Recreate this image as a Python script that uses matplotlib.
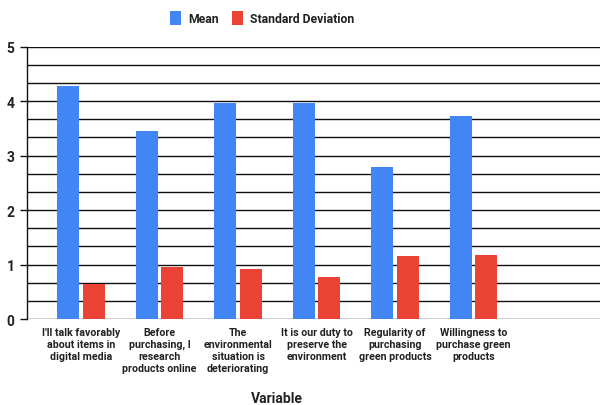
import matplotlib
matplotlib.use("Agg")
import matplotlib.pyplot as plt
import numpy as np
from matplotlib.ticker import MultipleLocator
from matplotlib.patches import Patch

categories = ["I'll talk favorably\nabout items in\ndigital media",
              "Before\npurchasing, I\nresearch\nproducts online",
              "The\nenvironmental\nsituation is\ndeteriorating",
              "It is our duty to\npreserve the\nenvironment",
              "Regularity of\npurchasing\ngreen products",
              "Willingness to\npurchase green\nproducts"]
mean_vals = [4.27, 3.46, 3.96, 3.96, 2.80, 3.72]
sd_vals = [0.65, 0.95, 0.92, 0.78, 1.15, 1.17]
series_names = ["Mean", "Standard Deviation"]
yticks = [0, 1, 2, 3, 4, 5]

blue = "#4285F4"
red = "#EA4335"

plt.rcParams['font.family'] = ['Roboto', 'DejaVu Sans']

fig = plt.figure(figsize=(6, 4.06), dpi=100)
ax = fig.add_axes([27/600, 1-320/406, 1-27/600, (320-47.7)/406])

x = np.arange(len(categories))
w = 0.28
ax.bar(x - 0.163, mean_vals, w, color=blue, zorder=3)
ax.bar(x + 0.162, sd_vals, w, color=red, zorder=3)

ax.set_xlim(-0.69, 6.61)
ax.set_ylim(0, 5)
ax.set_yticks(yticks)
ax.yaxis.set_minor_locator(MultipleLocator(1/3))
ax.grid(True, which='major', axis='y', color='#111111', linewidth=1.0, zorder=0)
ax.grid(True, which='minor', axis='y', color='#111111', linewidth=1.0, zorder=0)
ax.tick_params(axis='y', which='minor', length=0)
ax.tick_params(axis='y', which='major', length=5, width=1, color='#111111', pad=4,
               labelsize=10, labelcolor='#222222')
ax.set_yticklabels([str(t) for t in yticks], fontweight='bold')
ax.set_xticks(x)
ax.set_xticklabels(categories, fontsize=7.7, color='#222222', fontweight='bold',
                   linespacing=1.22, va='top')
ax.tick_params(axis='x', length=0, pad=6)
for s in ['top', 'right', 'bottom']:
    ax.spines[s].set_visible(False)
ax.spines['left'].set_color('#111111')
ax.spines['left'].set_linewidth(1.0)
ax.spines['left'].set_zorder(4)

fig.text(277/600, 1-399/406, "Variable", ha='center', va='center', fontsize=10,
         color='#222222', fontweight='bold')

handles = [Patch(facecolor=blue, label=series_names[0]),
           Patch(facecolor=red, label=series_names[1])]
leg = fig.legend(handles=handles, loc='center', bbox_to_anchor=(262/600, 1-19/406),
                 ncol=2, frameon=False, handlelength=0.9, handleheight=1.45,
                 handletextpad=0.6, columnspacing=1.1, prop={'weight': 'bold', 'size': 8.8})
for t in leg.get_texts():
    t.set_color('#222222')

fig.savefig("out.png", dpi=100)
